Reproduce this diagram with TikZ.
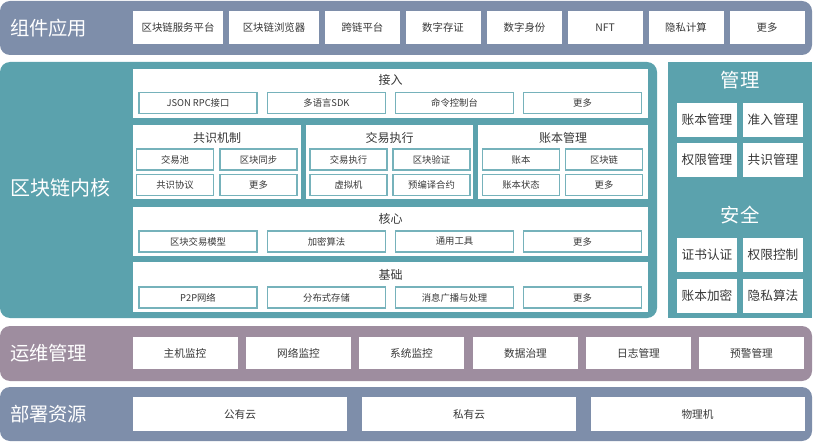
\documentclass[tikz,border=0pt]{standalone}
\usepackage{fontspec}
\setmainfont{Noto Sans CJK SC}
\usepackage{xcolor}
\usepackage{tikz}
\usetikzlibrary{positioning, calc}

\definecolor{appbg}{RGB}{126,142,170}
\definecolor{corebg}{RGB}{91,162,173}
\definecolor{opsbg}{RGB}{158,141,159}
\definecolor{cellline}{RGB}{118,178,187}
\definecolor{txt}{RGB}{55,55,55}

\begin{document}
\begin{tikzpicture}[x=0.75pt, y=-0.75pt,
		every node/.style={inner sep=0pt, outer sep=0pt, text=txt},
		wd/.style={minimum width=#1*0.75pt},
		ht/.style={minimum height=#1*0.75pt},
		layer/.style={rounded corners=7.5pt},
		layername/.style={anchor=west, text=white, font=\fontsize{14.5}{16}\selectfont},
		sidetitle/.style={text=white, font=\fontsize{14.5}{16}\selectfont},
		whitebox/.style={fill=white, font=\fontsize{7.8}{9}\selectfont},
		sidebox/.style={fill=white, wd=60, ht=34, font=\fontsize{9.5}{11}\selectfont},
		panel/.style={fill=white},
		paneltitle/.style={font=\fontsize{9}{10}\selectfont},
		cellbox/.style={draw=cellline, line width=1pt, fill=white, ht=21, font=\fontsize{7}{8}\selectfont}]
			
			\useasboundingbox (0,0) rectangle (814,442);
			
			% ---------- 组件应用 ----------
			\node[layer, fill=appbg, wd=812, ht=54] (appbar) at (406,28) {};
			\node[layername] (appname) at (10,28) {组件应用};
			\foreach \x/\w/\t [count=\i] in {178/90/区块链服务平台, 274/90/区块链浏览器, 362.5/75/跨链平台,
				443/75/数字存证, 524.5/75/数字身份, 605/75/NFT, 686/75/隐私计算, 767/75/更多} {
				\node[whitebox, wd=\w, ht=33] (app\i) at (\x,27.5) {\t};
			}
			
			% ---------- 区块链内核 ----------
			\node[layer, fill=corebg, wd=657, ht=256] (kernel) at (328.5,190) {};
			\node[layername, font=\fontsize{15}{17}\selectfont] (kernelname) at (10,188) {区块链内核};
			
			% 接入
			\node[panel, wd=515, ht=49] (access) at (390.5,93.5) {};
			\node[paneltitle] (accesstitle) at (390.5,80) {接入};
			\foreach \x/\t [count=\i] in {198/JSON RPC接口, 326.5/多语言SDK, 454.5/命令控制台, 582.5/更多} {
				\node[cellbox, wd=118] (access\i) at (\x,103) {\t};
			}
			
			% 共识机制 / 交易执行 / 账本管理
			\foreach \x/\w/\t [count=\i] in {217/168/共识机制, 389.5/167/交易执行, 563/170/账本管理} {
				\node[panel, wd=\w, ht=74] (mid\i) at (\x,162) {};
				\node[paneltitle] (midtitle\i) at (\x,138) {\t};
			}
			\foreach \x/\y/\t [count=\i] in {175/159.5/交易池, 258.5/159.5/区块同步, 175/185/共识协议, 258.5/185/更多,
				348.5/159.5/交易执行, 431.5/159.5/区块验证, 348.5/185/虚拟机, 431.5/185/预编译合约,
				521/159.5/账本, 604/159.5/区块链, 521/185/账本状态, 604/185/更多} {
				\node[cellbox, wd=77] (midcell\i) at (\x,\y) {\t};
			}
			
			% 核心
			\node[panel, wd=515, ht=49] (core) at (390.5,231.5) {};
			\node[paneltitle] (coretitle) at (390.5,219) {核心};
			\foreach \x/\t [count=\i] in {198/区块交易模型, 326.5/加密算法, 454.5/通用工具, 582.5/更多} {
				\node[cellbox, wd=118] (core\i) at (\x,241.5) {\t};
			}
			
			% 基础
			\node[panel, wd=515, ht=50] (base) at (390.5,287) {};
			\node[paneltitle] (basetitle) at (390.5,275) {基础};
			\foreach \x/\t [count=\i] in {198/P2P网络, 326.5/分布式存储, 454.5/消息广播与处理, 582.5/更多} {
				\node[cellbox, wd=118] (base\i) at (\x,297.5) {\t};
			}
			
			% ---------- 管理 / 安全 ----------
			\node[fill=corebg, wd=144, ht=256] (side) at (740,190) {};
			\node[sidetitle] (mgmttitle) at (740,80) {管理};
			\foreach \x/\y/\t [count=\i] in {707/120/账本管理, 773/120/准入管理, 707/160/权限管理, 773/160/共识管理} {
				\node[sidebox] (mgmt\i) at (\x,\y) {\t};
			}
			\node[sidetitle] (sectitle) at (740,215) {安全};
			\foreach \x/\y/\t [count=\i] in {707/255/证书认证, 773/255/权限控制, 707/295.5/账本加密, 773/295.5/隐私算法} {
				\node[sidebox] (sec\i) at (\x,\y) {\t};
			}
			
			% ---------- 运维管理 ----------
			\node[layer, fill=opsbg, wd=812, ht=55] (opsbar) at (406,353.5) {};
			\node[layername] (opsname) at (10,353.5) {运维管理};
			\foreach \x/\t [count=\i] in {185/主机监控, 298.5/网络监控, 411.5/系统监控, 525.5/数据治理, 638.5/日志管理, 751.5/预警管理} {
				\node[whitebox, wd=105, ht=32, font=\fontsize{8}{9}\selectfont] (ops\i) at (\x,353) {\t};
			}
			
			% ---------- 部署资源 ----------
			\node[layer, fill=appbg, wd=812, ht=54] (deploybar) at (406,414) {};
			\node[layername] (deployname) at (10,414) {部署资源};
			\foreach \x/\t [count=\i] in {240/公有云, 469/私有云, 697.5/物理机} {
				\node[whitebox, wd=214, ht=34, font=\fontsize{8}{9}\selectfont] (deploy\i) at (\x,414) {\t};
			}
			
\end{tikzpicture}
\end{document}
